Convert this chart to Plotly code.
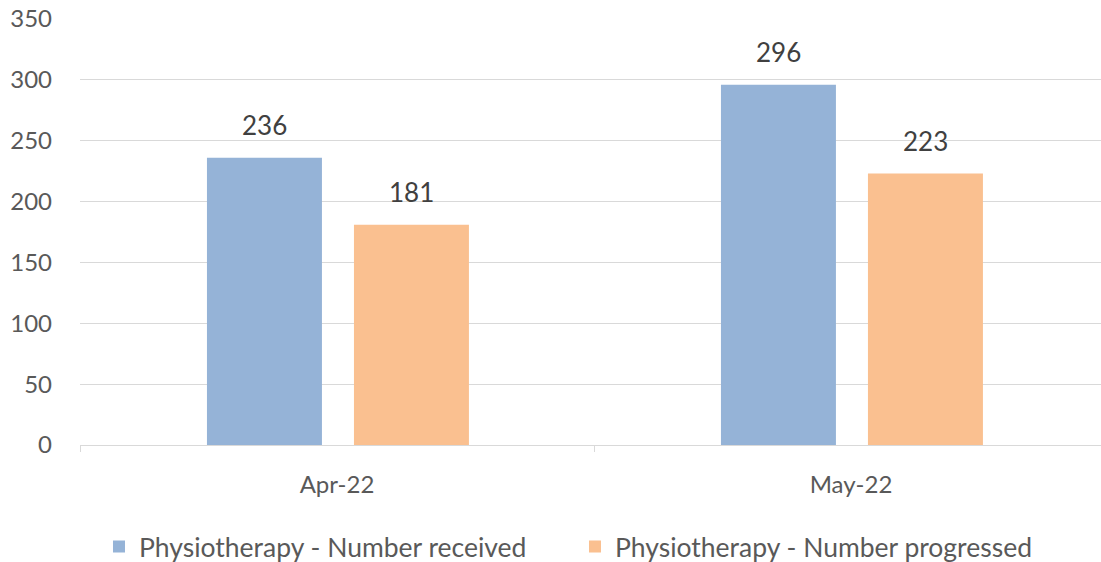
import plotly.graph_objects as go

# Monthly physiotherapy referral counts
months = ["Apr-22", "May-22"]
received = [236, 296]
progressed = [181, 223]

series_names = ["Physiotherapy - Number received", "Physiotherapy - Number progressed"]
colors = ["#95B3D7", "#FAC090"]

FONT = "Lato"
GREY = "#595959"
BAR_W = 0.2237
OFFSETS = [-0.2530, 0.0330]

fig = go.Figure()
for name, vals, col, off in zip(series_names, [received, progressed], colors, OFFSETS):
    fig.add_trace(go.Bar(
        x=months, y=vals, name=name,
        marker=dict(color=col, line=dict(width=0)),
        width=BAR_W, offset=off,
        hoverinfo="y+name",
    ))
    # value labels above each bar
    for i, v in enumerate(vals):
        fig.add_annotation(
            x=i + off + BAR_W / 2, y=v, xref="x", yref="y",
            text=str(v), showarrow=False,
            yanchor="bottom", yshift=15,
            font=dict(family=FONT, size=26, color="#404040"),
        )

fig.update_layout(
    width=1101, height=562,
    margin=dict(l=80, r=0, t=19, b=117, autoexpand=False),
    paper_bgcolor="white", plot_bgcolor="white",
    barmode="overlay",
    showlegend=True,
    legend=dict(
        orientation="h", x=0.0186, xanchor="left",
        y=-0.239, yanchor="middle",
        font=dict(family=FONT, size=26.5, color=GREY),
        entrywidth=431, entrywidthmode="pixels",
        traceorder="normal",
    ),
    xaxis=dict(
        range=[-0.5, 1.4864], showgrid=False,
        showline=True, linecolor="#D9D9D9", linewidth=1,
        ticks="outside", tickson="boundaries", ticklen=6, tickcolor="#D9D9D9",
        tickfont=dict(family=FONT, size=24, color=GREY),
        ticklabelstandoff=18,
    ),
    yaxis=dict(
        range=[0, 350], tickvals=[0, 50, 100, 150, 200, 250, 300, 350],
        showgrid=True, gridcolor="#D9D9D9", gridwidth=1,
        zeroline=False, showline=False,
        tickfont=dict(family=FONT, size=24, color=GREY),
        ticklabelstandoff=27,
    ),
)

fig.write_html("out.html")
